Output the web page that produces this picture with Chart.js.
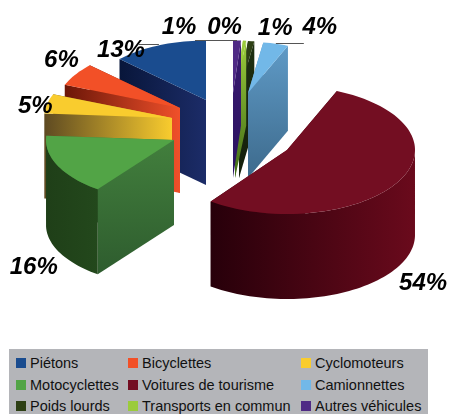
<!DOCTYPE html>
<html lang="fr">
<head>
<meta charset="utf-8">
<script src="https://cdn.jsdelivr.net/npm/chart.js@4"></script>
<style>
    body { margin: 0; background: #fff; width: 449px; height: 414px; overflow: hidden; position: relative; font-family: "Liberation Sans", Arial, sans-serif; }
    #pie { position: absolute; left: 0; top: 0; }
    #legende { position: absolute; left: 9px; top: 349px; width: 419px; height: 65px; background: #b4b5b9; color: #111; font-size: 14.5px; }
    #legende span { position: absolute; white-space: nowrap; line-height: 16px; }
    #legende i { position: absolute; width: 10px; height: 10px; }
</style>
</head>
<body>
<canvas id="pie" width="449" height="345"></canvas>
<div id="legende"></div>
<script>
// valeurs, dans l'ordre de la légende
const categories = ['Piétons', 'Bicyclettes', 'Cyclomoteurs', 'Motocyclettes', 'Voitures de tourisme', 'Camionnettes', 'Poids lourds', 'Transports en commun', 'Autres véhicules'];
const valeurs = [13, 6, 5, 16, 54, 4, 1, 0.4, 1];

// couleurs
const couleurs = ['#1a4c8f', '#f25027', '#f9cc2e', '#52a446', '#730e22', '#72b8e8', '#2e4015', '#9bcb3c', '#4f2a85'];
const paroiA = ['#08163a', '#6b1608', '#5e4a22', '#427f3d', '#27000a', '#5f9ac6', '#1f3012', '#9bcb3c', '#3a1a70'];
const paroiB = ['#1c2c68', '#f0502a', '#f9cc2e', '#2e5c2e', '#6a0a1c', '#3d6a8c', '#141f0b', '#3f6a15', '#2a1260'];
const paroiVerticale = [false, false, false, true, false, true, true, true, true];
const bordA = ['#08163a', '#6b1608', '#5e4a22', '#1f3f18', '#27000a', '#5f9ac6', '#1a2a10', '#5f8a25', '#3a1a70'];
const bordB = ['#1c2c68', '#f0502a', '#f9cc2e', '#23481c', '#6a0a1c', '#3d6a8c', '#1a2a10', '#3f6a15', '#2a1260'];

// éclatement de chaque part par rapport au centre du camembert
const ecartX = [-18.5, -44.5, -52.5, -50.5, 62.5, 23.5, 14.5, 10.5, 8.5];
const ecartY = [-72.5, -64.5, -54.5, -32.5, -22.5, -79.5, -79.5, -79.5, -79.5];
const echelle = [0.93, 0.97, 1, 1, 1, 0.8, 0.8, 1, 1];
const inclinaison = [0.5, 0.5, 0.5, 0.48, 0.5, 0.5, 0.51, 0.41, 0.41];
const texteX = [-38, -14, -12, -24, 25, 44, 24, -20, -58];
const texteY = [5, -14.5, 3, 101.5, 102, -16, -13, -13, -13];
const repere = [-20, 0, 0, 0, 0, 28, 0, 0, -42];

// ordre de dessin, du fond vers l'avant
const ordreDessin = [0, 1, 2, 3, 6, 7, 8, 5, 4];

const EPAISSEUR = 85;
const PAS = Math.PI / 90;

// le camembert tourne dans le sens inverse de la légende
const inverse = arr => arr.slice().reverse();

function legende() {
    const box = document.getElementById('legende');
    const colX = [7, 119, 292];
    const ligneY = [6, 28, 49];
    categories.forEach((nom, i) => {
        const col = i % 3, ligne = Math.floor(i / 3);
        const carre = document.createElement('i');
        carre.style.cssText = `left:${colX[col]}px;top:${ligneY[ligne] + 3}px;background:${couleurs[i]}`;
        const txt = document.createElement('span');
        txt.textContent = nom;
        txt.style.cssText = `left:${colX[col] + 14}px;top:${ligneY[ligne]}px`;
        box.appendChild(carre);
        box.appendChild(txt);
    });
}

function dessinerPart(ctx, arc, i) {
    const { x, y, startAngle, endAngle, outerRadius } = arc.getProps(['x', 'y', 'startAngle', 'endAngle', 'outerRadius'], true);
    const cx = x + ecartX[i], cy = y + ecartY[i];
    const r = outerRadius * echelle[i];
    const pt = a => [cx + Math.cos(a) * r, cy + Math.sin(a) * r * inclinaison[i]];

    const angles = [];
    for (let a = startAngle; a < endAngle; a += PAS) angles.push(a);
    angles.push(endAngle);

    // parois radiales, celle du fond d'abord
    [startAngle, endAngle].sort((a, b) => Math.sin(a) - Math.sin(b)).forEach(a => {
        const p = pt(a);
        const grad = paroiVerticale[i]
            ? ctx.createLinearGradient(0, Math.min(cy, p[1]), 0, Math.max(cy, p[1]) + EPAISSEUR)
            : ctx.createLinearGradient(p[0], 0, cx, 0);
        grad.addColorStop(0, paroiA[i]);
        grad.addColorStop(1, paroiB[i]);
        ctx.fillStyle = grad;
        ctx.beginPath();
        ctx.moveTo(cx, cy);
        ctx.lineTo(p[0], p[1]);
        ctx.lineTo(p[0], p[1] + EPAISSEUR);
        ctx.lineTo(cx, cy + EPAISSEUR);
        ctx.closePath();
        ctx.fill();
    });

    // bord extérieur, seulement la partie vers l'avant
    const avant = angles.filter(a => Math.sin(a) > 0);
    if (avant.length > 1) {
        const pts = avant.map(pt);
        const xs = pts.map(p => p[0]);
        const grad = ctx.createLinearGradient(Math.min(...xs), 0, Math.max(...xs), 0);
        grad.addColorStop(0, bordA[i]);
        grad.addColorStop(1, bordB[i]);
        ctx.fillStyle = grad;
        ctx.beginPath();
        pts.forEach((p, k) => k ? ctx.lineTo(p[0], p[1]) : ctx.moveTo(p[0], p[1]));
        pts.slice().reverse().forEach(p => ctx.lineTo(p[0], p[1] + EPAISSEUR));
        ctx.closePath();
        ctx.fill();
    }

    // dessus
    ctx.fillStyle = couleurs[i];
    ctx.beginPath();
    ctx.moveTo(cx, cy);
    angles.forEach(a => { const p = pt(a); ctx.lineTo(p[0], p[1]); });
    ctx.closePath();
    ctx.fill();
}

function dessinerTextes(ctx, arc, i, total) {
    const { x, y, startAngle, endAngle, outerRadius } = arc.getProps(['x', 'y', 'startAngle', 'endAngle', 'outerRadius'], true);
    const mid = (startAngle + endAngle) / 2;
    const r = outerRadius * echelle[i];
    const px = x + ecartX[i] + Math.cos(mid) * r;
    const py = y + ecartY[i] + Math.sin(mid) * r * inclinaison[i];

    if (repere[i]) {
        ctx.strokeStyle = '#555';
        ctx.lineWidth = 1;
        ctx.beginPath();
        ctx.moveTo(px, Math.round(py) - 0.5);
        ctx.lineTo(px + repere[i], Math.round(py) - 0.5);
        ctx.stroke();
    }
    ctx.fillStyle = '#000';
    ctx.font = 'italic bold 24px "Liberation Sans", Arial, sans-serif';
    ctx.textAlign = 'center';
    ctx.textBaseline = 'middle';
    ctx.fillText(Math.round(valeurs[i] / total * 100) + '%', px + texteX[i], py + texteY[i]);
}

const camembert3d = {
    id: 'camembert3d',
    beforeDatasetDraw(chart, args) {
        const ctx = chart.ctx;
        const arcs = chart.getDatasetMeta(args.index).data;
        const n = categories.length;
        const total = valeurs.reduce((a, b) => a + b, 0);
        ctx.save();
        ordreDessin.forEach(i => dessinerPart(ctx, arcs[n - 1 - i], i));
        ordreDessin.forEach(i => dessinerTextes(ctx, arcs[n - 1 - i], i, total));
        ctx.restore();
        return false;
    }
};

legende();

new Chart(document.getElementById('pie'), {
    type: 'pie',
    data: {
        labels: inverse(categories),
        datasets: [{ data: inverse(valeurs), backgroundColor: inverse(couleurs), borderWidth: 0 }]
    },
    options: {
        responsive: false,
        animation: false,
        radius: 128,
        plugins: { legend: { display: false }, tooltip: { enabled: false } }
    },
    plugins: [camembert3d]
});
</script>
</body>
</html>
